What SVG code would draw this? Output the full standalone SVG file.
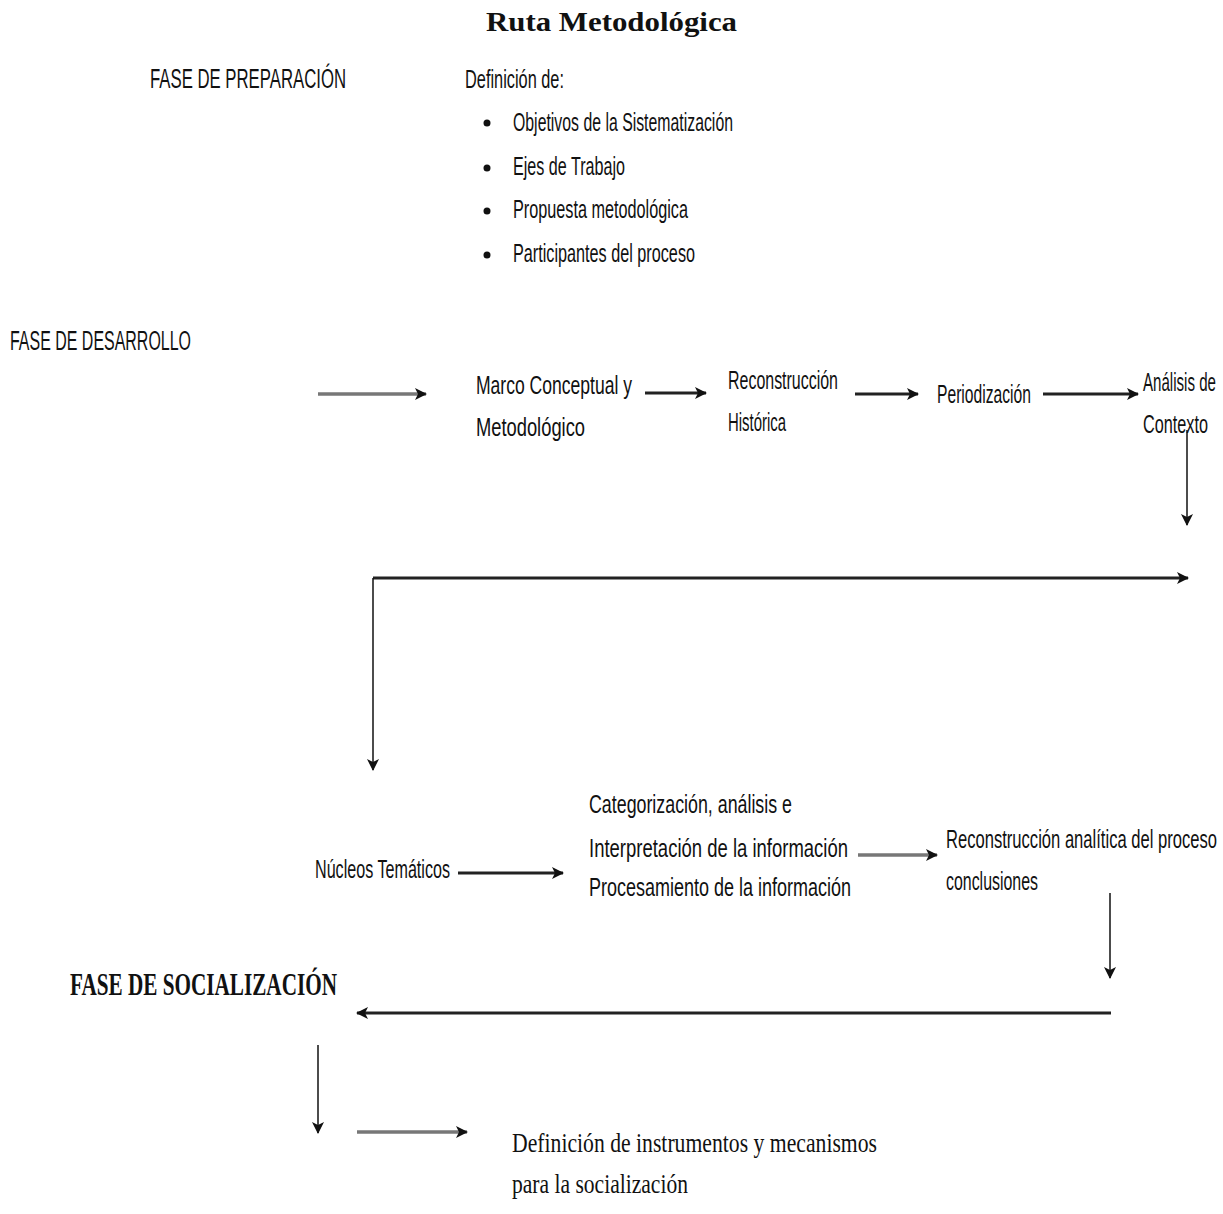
<svg xmlns="http://www.w3.org/2000/svg" width="1223" height="1214" viewBox="0 0 1223 1214">
<style>
.s{font-family:"Liberation Sans",Arial,sans-serif;font-size:25px;fill:#111}
.h{font-family:"Liberation Sans",Arial,sans-serif;font-size:27px;fill:#111}
.sf{font-family:"Liberation Serif","Times New Roman",serif;fill:#111}
.c{stroke:#111;stroke-width:1.5;fill:none}
.t{stroke:#222;stroke-width:3;fill:none}
.g{stroke:#777;stroke-width:3.5;fill:none}
</style>
<defs>
<marker id="ah" markerWidth="12" markerHeight="12" refX="11" refY="6" orient="auto" markerUnits="userSpaceOnUse"><path d="M0,0 L12,6 L0,12 L3,6 Z" fill="#111"/></marker>
</defs>
<rect width="1223" height="1214" fill="#fff"/>
<text class="sf" x="486" y="31" font-size="28" font-weight="bold" textLength="251" lengthAdjust="spacingAndGlyphs">Ruta Metodológica</text>
<g id="fase-preparacion"><text class="h" x="150" y="88" textLength="196" lengthAdjust="spacingAndGlyphs">FASE DE PREPARACIÓN</text></g>
<g id="definicion">
<text class="s" x="465" y="88" textLength="99" lengthAdjust="spacingAndGlyphs">Definición de:</text>
<circle cx="487" cy="123" r="3.5" fill="#111"/><text class="s" x="513" y="131" textLength="220" lengthAdjust="spacingAndGlyphs">Objetivos de la Sistematización</text>
<circle cx="487" cy="168" r="3.5" fill="#111"/><text class="s" x="513" y="175" textLength="112" lengthAdjust="spacingAndGlyphs">Ejes de Trabajo</text>
<circle cx="487" cy="211" r="3.5" fill="#111"/><text class="s" x="513" y="218" textLength="175" lengthAdjust="spacingAndGlyphs">Propuesta metodológica</text>
<circle cx="487" cy="255" r="3.5" fill="#111"/><text class="s" x="513" y="262" textLength="182" lengthAdjust="spacingAndGlyphs">Participantes del proceso</text>
</g>
<g id="fase-desarrollo"><text class="h" x="10" y="350" textLength="181" lengthAdjust="spacingAndGlyphs">FASE DE DESARROLLO</text></g>
<g id="marco"><text class="s" x="476" y="394" textLength="156" lengthAdjust="spacingAndGlyphs">Marco Conceptual y</text><text class="s" x="476" y="436" textLength="109" lengthAdjust="spacingAndGlyphs">Metodológico</text></g>
<g id="reconstruccion"><text class="s" x="728" y="389" textLength="110" lengthAdjust="spacingAndGlyphs">Reconstrucción</text><text class="s" x="728" y="431" textLength="58" lengthAdjust="spacingAndGlyphs">Histórica</text></g>
<g id="periodizacion"><text class="s" x="937" y="403" textLength="94" lengthAdjust="spacingAndGlyphs">Periodización</text></g>
<g id="analisis">
<text class="s" transform="translate(1143,391) scale(0.6,1)" x="0" y="0" textLength="121.7" lengthAdjust="spacingAndGlyphs">Análisis de</text>
<text class="s" transform="translate(1143,433) scale(0.65,1)" x="0" y="0" textLength="100" lengthAdjust="spacingAndGlyphs">Contexto</text>
</g>
<g id="nucleos"><text class="s" x="315" y="878" textLength="135" lengthAdjust="spacingAndGlyphs">Núcleos Temáticos</text></g>
<g id="categorizacion">
<text class="s" x="589" y="813" textLength="203" lengthAdjust="spacingAndGlyphs">Categorización, análisis e</text>
<text class="s" x="589" y="857" textLength="259" lengthAdjust="spacingAndGlyphs">Interpretación de la información</text>
<text class="s" x="589" y="896" textLength="262" lengthAdjust="spacingAndGlyphs">Procesamiento de la información</text>
</g>
<g id="reconstruccion-analitica">
<text class="s" transform="translate(946,848) scale(0.68,1)" x="0" y="0" textLength="398.5" lengthAdjust="spacingAndGlyphs">Reconstrucción analítica del proceso</text>
<text class="s" x="946" y="890" textLength="92" lengthAdjust="spacingAndGlyphs">conclusiones</text>
</g>
<g id="fase-socializacion"><text class="sf" x="70" y="995" font-size="32" font-weight="bold" textLength="267" lengthAdjust="spacingAndGlyphs">FASE DE SOCIALIZACIÓN</text></g>
<g id="definicion-instrumentos"><text class="sf" x="512" y="1152" font-size="27" textLength="365" lengthAdjust="spacingAndGlyphs">Definición de instrumentos y mecanismos</text><text class="sf" x="512" y="1193" font-size="27" textLength="176" lengthAdjust="spacingAndGlyphs">para la socialización</text></g>
<g id="connectors">
<path class="g" d="M318,394 H426" marker-end="url(#ah)"/>
<path class="t" d="M645,393 H706" marker-end="url(#ah)"/>
<path class="t" d="M855,394 H918" marker-end="url(#ah)"/>
<path class="t" d="M1043,394 H1138" marker-end="url(#ah)"/>
<path class="c" d="M1187,430 V525" marker-end="url(#ah)"/>
<path class="t" d="M373,578 H1188" marker-end="url(#ah)"/>
<path class="c" d="M373,578 V770" marker-end="url(#ah)"/>
<path class="t" d="M458,873 H563" marker-end="url(#ah)"/>
<path class="g" d="M858,855 H937" marker-end="url(#ah)"/>
<path class="c" d="M1110,893 V978" marker-end="url(#ah)"/>
<path class="t" d="M1111,1013 H357" marker-end="url(#ah)"/>
<path class="c" d="M318,1045 V1133" marker-end="url(#ah)"/>
<path class="g" d="M357,1132 H467" marker-end="url(#ah)"/>
</g>
</svg>
